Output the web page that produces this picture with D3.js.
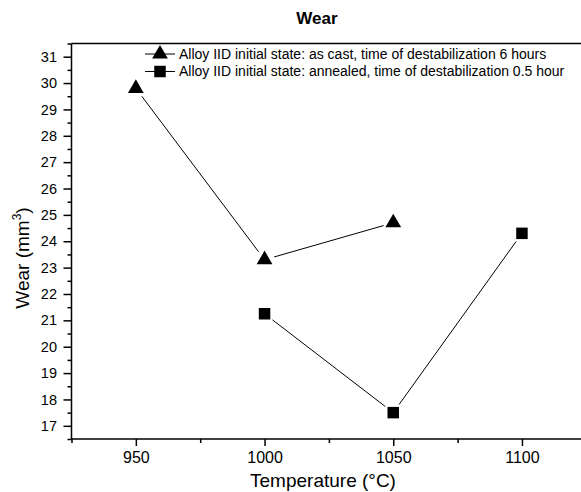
<!DOCTYPE html>
<html>
<head>
<meta charset="utf-8">
<script src="https://cdn.jsdelivr.net/npm/d3@7"></script>
<style>
  body { margin: 0; background: #fff; }
  text { font-family: "Liberation Sans", Arial, sans-serif; fill: #000; }
</style>
</head>
<body>
<div id="chart"></div>
<script>
// series
const tempCast = [950, 1000, 1050];
const wearCast = [29.8, 23.3, 24.7];
const tempAnnealed = [1000, 1050, 1100];
const wearAnnealed = [21.25, 17.5, 24.3];
const seriesNames = [
  "Alloy IID initial state: as cast, time of destabilization 6 hours",
  "Alloy IID initial state: annealed, time of destabilization 0.5 hour"
];
const xTicks = [950, 1000, 1050, 1100];
const yTicks = [17, 18, 19, 20, 21, 22, 23, 24, 25, 26, 27, 28, 29, 30, 31];

const width = 581, height = 492;
const plotLeft = 71.5, plotTop = 43.5, plotBottom = 439;

const svg = d3.select("#chart").append("svg")
    .attr("width", width)
    .attr("height", height);

const x = d3.scaleLinear().domain([925, 1125]).range([plotLeft, plotLeft + 4 * 128.7]);
const y = d3.scaleLinear().domain([16.5, 31.5]).range([plotBottom, plotTop]);

// minor ticks
const xMinor = d3.range(925, 1126, 25).filter(d => xTicks.indexOf(d) < 0);
const yMinor = d3.range(16.5, 31.6, 1);

svg.append("g")
    .attr("transform", `translate(0,${plotBottom})`)
    .call(d3.axisBottom(x).tickValues(xMinor).tickSize(4).tickFormat(""))
    .call(g => g.select(".domain").remove());
svg.append("g")
    .attr("transform", `translate(${plotLeft},0)`)
    .call(d3.axisLeft(y).tickValues(yMinor).tickSize(4).tickFormat(""))
    .call(g => g.select(".domain").remove());

const xAxis = svg.append("g")
    .attr("transform", `translate(0,${plotBottom})`)
    .call(d3.axisBottom(x).tickValues(xTicks).tickSize(7).tickPadding(6).tickFormat(d3.format("d")));
xAxis.selectAll("text").attr("font-size", 16).style("font-family", "Liberation Sans, Arial, sans-serif");
xAxis.select(".domain").attr("d", `M${plotLeft},0H${width + 10}`);

const yAxis = svg.append("g")
    .attr("transform", `translate(${plotLeft},0)`)
    .call(d3.axisLeft(y).tickValues(yTicks).tickSize(8).tickPadding(6.5).tickFormat(d3.format("d")));
yAxis.selectAll("text").attr("font-size", 14.5).style("font-family", "Liberation Sans, Arial, sans-serif");
yAxis.select(".domain").attr("d", `M0,${plotTop}V${plotBottom}`);

svg.selectAll(".domain, .tick line").attr("stroke", "#000").attr("stroke-width", 1.5);

// top frame line
svg.append("line")
    .attr("x1", plotLeft).attr("x2", width + 10)
    .attr("y1", plotTop).attr("y2", plotTop)
    .attr("stroke", "#000").attr("stroke-width", 1.5);

const tri = d3.symbol().type(d3.symbolTriangle).size(108);
const sq = d3.symbol().type(d3.symbolSquare).size(132);

// connecting segments with a gap near each marker
function gapLines(xs, ys, gap) {
  const pts = xs.map((d, i) => [x(d), y(ys[i])]);
  for (let i = 0; i < pts.length - 1; i++) {
    const [x1, y1] = pts[i], [x2, y2] = pts[i + 1];
    const len = Math.hypot(x2 - x1, y2 - y1);
    const ux = (x2 - x1) / len, uy = (y2 - y1) / len;
    svg.append("line")
        .attr("x1", x1 + ux * gap).attr("y1", y1 + uy * gap)
        .attr("x2", x2 - ux * gap).attr("y2", y2 - uy * gap)
        .attr("stroke", "#000").attr("stroke-width", 1);
  }
}
gapLines(tempCast, wearCast, 10);
gapLines(tempAnnealed, wearAnnealed, 10);

svg.selectAll(".cast").data(tempCast).enter().append("path")
    .attr("d", tri)
    .attr("transform", (d, i) => `translate(${x(d)},${y(wearCast[i])})`)
    .attr("fill", "#000");
svg.selectAll(".ann").data(tempAnnealed).enter().append("path")
    .attr("d", sq)
    .attr("transform", (d, i) => `translate(${x(d)},${y(wearAnnealed[i])})`)
    .attr("fill", "#000");

// legend
const legend = svg.append("g").attr("transform", "translate(145,54)");
[tri, sq].forEach((sym, i) => {
  const row = legend.append("g").attr("transform", `translate(0,${i * 17.5})`);
  row.append("line").attr("x1", 0).attr("x2", 30).attr("stroke", "#000").attr("stroke-width", 1);
  row.append("path").attr("d", sym).attr("transform", "translate(15,0)").attr("fill", "#000");
  row.append("text").attr("x", 34).attr("dy", "0.35em").attr("font-size", 14).text(seriesNames[i]);
});

// titles
svg.append("text")
    .attr("x", 317).attr("y", 24)
    .attr("text-anchor", "middle")
    .attr("font-size", 17).attr("font-weight", "bold")
    .text("Wear");

svg.append("text")
    .attr("x", 323).attr("y", 487)
    .attr("text-anchor", "middle")
    .attr("font-size", 19)
    .text("Temperature (°C)");

const yl = svg.append("text")
    .attr("transform", "translate(29,258) rotate(-90)")
    .attr("text-anchor", "middle")
    .attr("font-size", 19);
yl.append("tspan").text("Wear (mm");
yl.append("tspan").attr("font-size", 12).attr("dy", -8).text("3");
yl.append("tspan").attr("dy", 8).text(")");
</script>
</body>
</html>
